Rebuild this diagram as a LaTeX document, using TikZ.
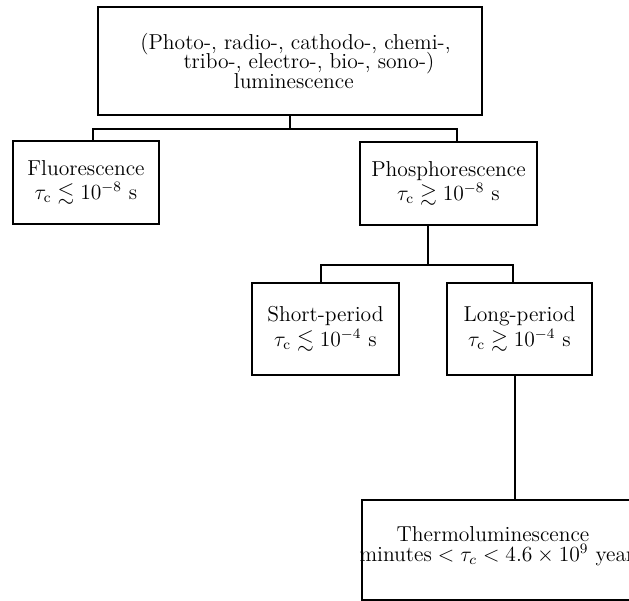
\documentclass[tikz,border=0pt]{standalone}
\usepackage{amsmath}
\usepackage{amssymb}
\usetikzlibrary{calc}

\begin{document}
\begin{tikzpicture}[x=0.556pt,y=-0.556pt,
	every node/.style={font=\large},
	box/.style={draw,line width=1pt,inner sep=0pt,align=center},
	link/.style={line width=1pt}]
	\useasboundingbox (0,0) rectangle (629,601);
	\clip (0,0) rectangle (629,601);
	% boxes
	\node[box,minimum width=384*0.556pt,minimum height=108*0.556pt] (lum) at (290,61) {};
	\node[anchor=west,align=left,inner sep=0pt] (lumtext) at (140,61)
		{(Photo-, radio-, cathodo-, chemi-,\\[-3pt]
		\hspace*{24pt}tribo-, electro-, bio-, sono-)\\[-3pt]
		\hspace*{52pt}luminescence};
	\node[box,minimum width=146*0.556pt,minimum height=83*0.556pt] (fluor) at (86,182.5)
		{Fluorescence\\[-0.5pt] $\tau_{\mathrm{c}}\lesssim 10^{-8}$ s};
	\node[box,minimum width=177*0.556pt,minimum height=83*0.556pt] (phos) at (448.5,183.5)
		{Phosphorescence\\[-0.5pt] $\tau_{\mathrm{c}}\gtrsim 10^{-8}$ s};
	\node[box,minimum width=147*0.556pt,minimum height=92*0.556pt] (short) at (325.5,329)
		{Short-period\\[-0.5pt] $\tau_{\mathrm{c}}\lesssim 10^{-4}$ s};
	\node[box,minimum width=145*0.556pt,minimum height=92*0.556pt] (long) at (519.5,329)
		{Long-period\\[-0.5pt] $\tau_{\mathrm{c}}\gtrsim 10^{-4}$ s};
	\node[box,minimum width=338*0.556pt,minimum height=100*0.556pt] (thermo) at (531,550) {};
	\node[align=center] (thermotext) at (493,546) {Thermoluminescence\\[-3pt]
		\hspace*{9pt}minutes${}<\tau_c<4.6\times10^{9}$ years};
	% connectors
	\draw[link] (lum.south) -- ++(0,13);
	\draw[link] ($(fluor.north)+(7,0)$) |- ($(lum.south)+(0,13)$) -| ($(phos.north)+(8.5,0)$);
	\draw[link] ($(phos.south)+(-20.5,0)$) -- ++(0,39);
	\draw[link] ($(short.north)+(-4.5,0)$) |- ($(phos.south)+(-20.5,39)$) -| ($(long.north)+(-6.5,0)$);
	\draw[link] ($(long.south)+(-4.5,0)$) -- ++(0,125);
\end{tikzpicture}
\end{document}
